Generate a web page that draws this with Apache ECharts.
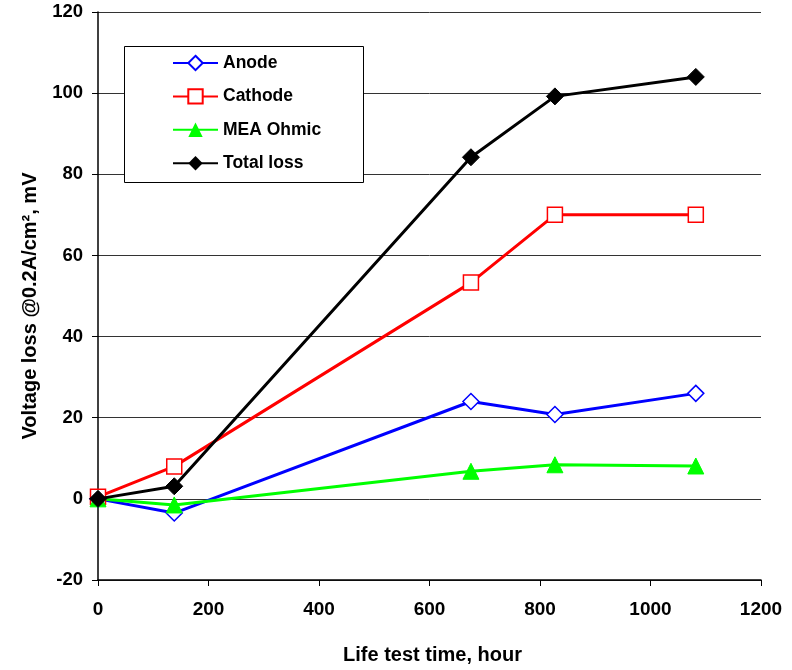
<!DOCTYPE html>
<html><head><meta charset="utf-8">
<script src="https://cdn.jsdelivr.net/npm/echarts@6/dist/echarts.min.js"></script>
<style>html,body{margin:0;padding:0;background:#fff}#c{width:792px;height:670px}</style>
</head><body><div id="c"></div>
<script>
const hours = [0, 138, 675, 827, 1082];
const anode = [0, -3.5, 24, 20.8, 26];
const cathode = [0.5, 8, 53.3, 70, 70];
const meaOhmic = [0, -1.5, 6.8, 8.4, 8.1];
const totalLoss = [0, 3.1, 84.2, 99.2, 104];
const seriesNames = ['Anode', 'Cathode', 'MEA Ohmic', 'Total loss'];

const font = '"Liberation Sans", Arial, sans-serif';
function pairs(v){ return hours.map((h,i)=>[h, v[i]]); }

const chart = echarts.init(document.getElementById('c'));
chart.setOption({
  animation:false,
  backgroundColor:'#fff',
  grid:{left:98, right:31, top:12, bottom:85, containLabel:false},
  graphic:[{type:'rect', shape:{x:124.5, y:46.5, width:239, height:136},
    style:{fill:'#fff', stroke:'#000', lineWidth:1}, z:5}],
  legend:{
    data:seriesNames, orient:'vertical', left:167, top:48, z:10,
    itemWidth:45, itemHeight:18, itemGap:13.4,
    textStyle:{fontFamily:font, fontWeight:'bold', fontSize:17.5, color:'#000', lineHeight:20}
  },
  xAxis:{
    type:'value', min:0, max:1200, interval:200,
    name:'Life test time, hour', nameLocation:'middle', nameGap:65,
    nameTextStyle:{fontFamily:font, fontWeight:'bold', fontSize:20, color:'#000', padding:[0,0,0,6]},
    axisLine:{onZero:false, lineStyle:{color:'#000', width:1.5}},
    axisTick:{show:true, inside:false, length:6, lineStyle:{color:'#000'}},
    axisLabel:{fontFamily:font, fontWeight:'bold', fontSize:19, color:'#000', margin:20,
      formatter:function(v){return String(v);}},
    splitLine:{show:false}
  },
  yAxis:{
    type:'value', min:-20, max:120, interval:20,
    name:'Voltage loss @0.2A/cm², mV', nameLocation:'middle', nameGap:58,
    nameTextStyle:{fontFamily:font, fontWeight:'bold', fontSize:20, color:'#000', padding:[0,20,0,0]},
    axisLine:{show:true, lineStyle:{color:'#000', width:1.5}},
    axisTick:{show:true, inside:false, length:6, lineStyle:{color:'#000'}},
    axisLabel:{fontFamily:font, fontWeight:'bold', fontSize:18.5, color:'#000', margin:15},
    splitLine:{show:true, lineStyle:{color:'#333', width:1}}
  },
  series:[
    {name:'Anode', type:'line', data:pairs(anode), symbol:'diamond', symbolSize:16,
     lineStyle:{color:'#0000ff', width:3}, itemStyle:{color:'#fff', borderColor:'#0000ff', borderWidth:1.5}, z:3},
    {name:'Cathode', type:'line', data:pairs(cathode), symbol:'rect', symbolSize:15,
     lineStyle:{color:'#ff0000', width:3}, itemStyle:{color:'#fff', borderColor:'#ff0000', borderWidth:1.5}, z:3},
    {name:'MEA Ohmic', type:'line', data:pairs(meaOhmic), symbol:'triangle', symbolSize:16,
     lineStyle:{color:'#00ff00', width:3}, itemStyle:{color:'#00ff00', borderColor:'#00ff00'}, z:3},
    {name:'Total loss', type:'line', data:pairs(totalLoss), symbol:'diamond', symbolSize:17,
     lineStyle:{color:'#000', width:3}, itemStyle:{color:'#000', borderColor:'#000'}, z:4}
  ]
});
</script></body></html>
